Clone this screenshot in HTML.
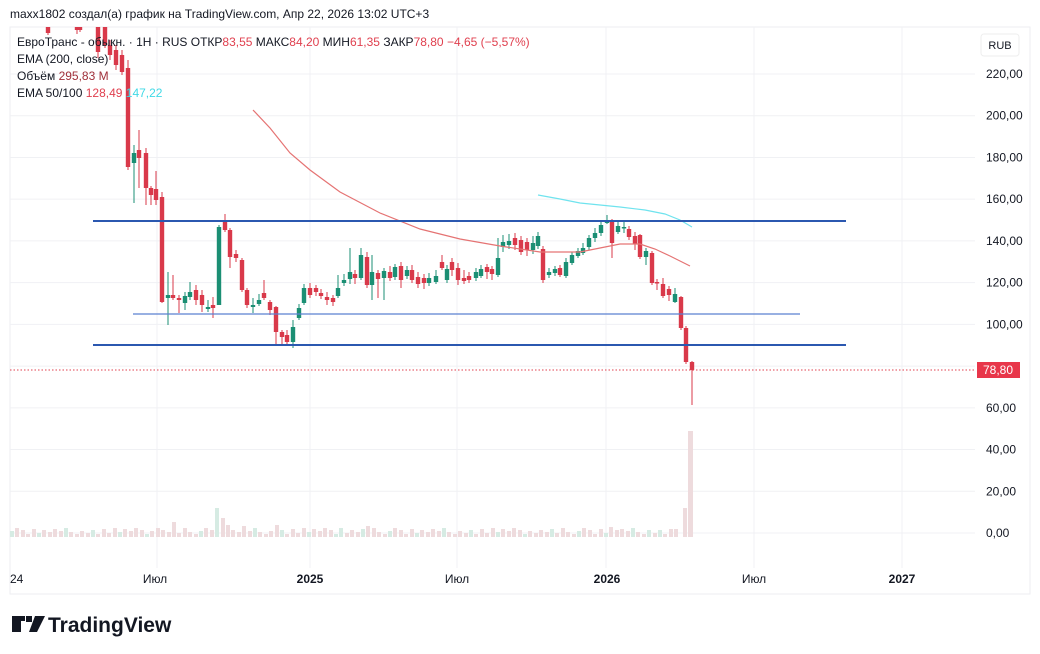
<!DOCTYPE html>
<html><head><meta charset="utf-8"><style>
html,body{margin:0;padding:0;background:#fff;width:1040px;height:654px;overflow:hidden;font-family:"Liberation Sans",sans-serif}
</style></head><body>
<svg id="s" width="1040" height="654" xmlns="http://www.w3.org/2000/svg" font-family="Liberation Sans, sans-serif">
<rect x="10" y="27" width="1020" height="567" fill="#fff" stroke="#eceef2"/>
<g id="grid" stroke="#f0f1f4" stroke-width="1"></g>
<g id="vol"></g>
<rect x="683" y="508" width="4" height="29" fill="#eedbdd"/>
<rect x="688" y="431" width="5" height="106" fill="#eedbdd"/>
<g id="cand"></g>
<polyline fill="none" stroke="#e57373" stroke-width="1.2" points="253,110 270,128 290,153 310,170 340,192 380,213 420,229 460,239 500,246 540,252 580,252 600,248 620,244 640,244 655,249 670,256 682,262 690,266"/>
<polyline fill="none" stroke="#6fe3ee" stroke-width="1.2" points="538,195 560,199 580,203 600,205 620,207 645,210 665,214 680,220 692,227"/>
<line x1="93" y1="221" x2="846" y2="221" stroke="#2b58b0" stroke-width="2"/>
<line x1="133" y1="314" x2="800" y2="314" stroke="#5b80d0" stroke-width="1.3"/>
<line x1="93" y1="345" x2="846" y2="345" stroke="#2b58b0" stroke-width="2"/>
<line x1="10" y1="370" x2="975" y2="370" stroke="#e0404f" stroke-width="1" stroke-dasharray="1.5,2"/>
<g font-size="12" fill="#131722" id="ylab"></g>
<rect x="977" y="362" width="43" height="16" fill="#e8364a"/>
<text x="998" y="374" font-size="12" fill="#fff" text-anchor="middle">78,80</text>
<rect x="981" y="34" width="38" height="22" rx="3" fill="#fff" stroke="#eee"/>
<text x="1000" y="49" font-size="11" fill="#131722" text-anchor="middle">RUB</text>
<g font-size="12" fill="#131722">
<text x="10" y="583">24</text>
<text x="155" y="583" text-anchor="middle">Июл</text>
<text x="310" y="583" text-anchor="middle" font-weight="bold">2025</text>
<text x="457" y="583" text-anchor="middle">Июл</text>
<text x="607" y="583" text-anchor="middle" font-weight="bold">2026</text>
<text x="754" y="583" text-anchor="middle">Июл</text>
<text x="902" y="583" text-anchor="middle" font-weight="bold">2027</text>
</g>
<text x="10" y="18" font-size="12" fill="#131722">maxx1802 создал(а) график на TradingView.com, Апр 22, 2026 13:02 UTC+3</text>
<g font-size="12" fill="#131722">
<text x="17" y="46">ЕвроТранс - обыкн. · 1H · RUS  ОТКР<tspan fill="#e0404f">83,55</tspan>  МАКС<tspan fill="#e0404f">84,20</tspan>  МИН<tspan fill="#e0404f">61,35</tspan>  ЗАКР<tspan fill="#e0404f">78,80</tspan>  <tspan fill="#e0404f">−4,65 (−5,57%)</tspan></text>
<text x="17" y="63">EMA (200, close)</text>
<text x="17" y="80">Объём  <tspan fill="#a0303a">295,83 M</tspan></text>
<text x="17" y="97">EMA 50/100  <tspan fill="#e0404f">128,49</tspan>  <tspan fill="#3fd9e6">147,22</tspan></text>
</g>
<g fill="#131722">
<path d="M12 616h13v5h-4v11h-9z M26 616h6v6h-6z"/>
<path d="M35 616h10l-8 16h-8z"/>
</g>
<text x="48" y="632" font-size="21" font-weight="bold" fill="#131722">TradingView</text>
</svg>
<script>
(function(){
var NS="http://www.w3.org/2000/svg";
function el(p,t,a){var e=document.createElementNS(NS,t);for(var k in a)e.setAttribute(k,a[k]);p.appendChild(e);return e;}
var g=document.getElementById('grid'),yl=document.getElementById('ylab');
for(var v=0;v<=220;v+=20){var y=533-v*2.0864;el(g,'line',{x1:10,x2:975,y1:y,y2:y});
if(v!=80){var t=el(yl,'text',{x:986,y:y+4});t.textContent=v+',00';}}
[157,310,457,606,754,902].forEach(function(x){el(g,'line',{x1:x,x2:x,y1:27,y2:568});});
var C=[[48,27,33,27,35],[77,27,30,27,34],[80,27,30,27,32],[98,27,52,27,58],[105,27,45,27,48],[110,45,55,40,60],[116,50,65,45,70],[122,55,72,50,75],[128,68,167,60,170],
[134,163,153,145,203],[139,150,158,130,188],[146,153,188,148,205],[151,188,195,186,205],[156,189,200,171,205],[162,197,302,192,303],
[168,298,295,272,325],[173,295,298,275,300],[179,298,300,295,313],[185,303,296,292,310],[190,297,292,282,300],[196,290,300,285,305],[202,295,305,290,312],[208,309,307,300,312],[213,305,308,297,318],
[219,305,227,225,305],[225,222,230,214,232],[230,230,257,228,268],[236,254,258,250,262],[242,260,290,258,292],[247,290,305,288,308],[253,307,305,298,313],[259,304,300,294,306],[264,293,298,280,300],[270,302,310,300,315],
[276,307,332,306,345],[282,332,337,330,344],[287,335,342,330,345],[293,342,327,320,348],[299,318,308,304,320],[304,303,288,284,305],[310,288,295,283,298],[316,288,292,285,296],[321,293,296,289,299],[327,297,300,292,305],[333,298,302,295,306],[338,296,288,275,298],
[344,283,280,274,286],[350,279,272,248,284],[355,274,278,270,284],[361,278,255,248,280],[367,257,285,252,288],[372,285,272,255,300],[378,273,279,270,298],
[384,278,271,268,300],[390,272,278,266,281],[395,277,267,264,280],[401,266,280,262,288],[407,276,270,266,279],[412,270,280,265,283],[418,277,284,272,288],[424,278,283,274,289],[429,283,278,273,286],[436,282,276,270,284],
[442,262,268,255,270],[447,280,269,265,283],[452,262,270,258,276],[458,268,280,263,285],[464,278,281,270,284],[469,276,280,272,283],[476,278,272,268,281],[481,276,269,265,278],[487,267,272,264,279],[492,269,274,266,280],
[498,275,258,238,277],[503,247,242,235,252],[509,245,241,234,249],[515,238,245,233,250],[521,240,252,236,255],[527,242,250,238,256],[533,250,243,236,254],[538,246,236,232,249],[543,249,280,246,283],
[549,275,272,268,278],[555,273,269,266,276],[560,268,275,265,277],[566,276,262,258,278],[572,263,255,252,265],[578,256,251,248,258],[583,253,248,243,255],[589,247,238,235,250],[595,238,233,228,242],[601,233,225,220,236],[607,223,221,215,224],
[612,221,243,219,258],[618,232,226,221,234],[624,228,227,222,233],[629,229,237,226,240],[635,236,244,232,250],[640,235,257,234,259],[646,257,251,248,265],[652,253,283,251,285],[657,282,283,279,290],[663,284,296,278,298],[669,289,295,286,301],[675,302,294,288,303],[681,297,328,296,330],[686,328,362,326,364],[692,362,370,361,405]];
var cg=document.getElementById('cand');
C.forEach(function(c){var up=c[2]<c[1];var col=up?'#1b8f74':'#d9394a';
el(cg,'line',{x1:c[0],x2:c[0],y1:c[3],y2:c[4],stroke:col,'stroke-width':1});
var tp=Math.min(c[1],c[2]),h=Math.max(1.5,Math.abs(c[2]-c[1]));
el(cg,'rect',{x:c[0]-2.2,y:tp,width:4.4,height:h,fill:col});});
var vg=document.getElementById('vol');
var sp=[[166,520,1],[172,522,0],[217,508,1],[223,518,0],[228,525,0],[160,528,0],[246,526,0],[276,525,0],[343,528,1],[355,528,1],[368,526,0],[610,527,0],[616,530,0],[647,530,1],[652,530,0],[676,529,0]];
for(var x=12;x<=680;x+=5.4){var xi=Math.round(x);var yt=537-(3+((xi*37)%7));var gr=((xi*13)%3)==0;
sp.forEach(function(q){if(Math.abs(q[0]-xi)<3){yt=q[1];gr=q[2]==1;}});
el(vg,'rect',{x:xi-2,y:yt,width:4,height:537-yt,fill:gr?'#d6ebe3':'#eedbdd'});}
})();
</script>
</body></html>
